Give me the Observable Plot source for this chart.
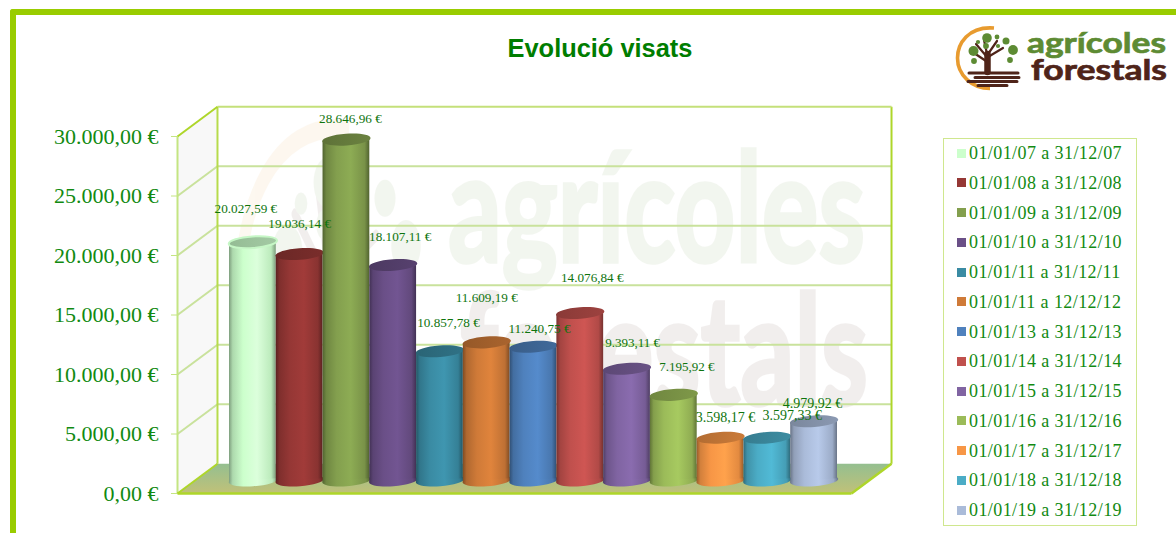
<!DOCTYPE html>
<html lang="ca">
<head>
<meta charset="utf-8">
<title>Evolució visats</title>
<script src="https://cdn.jsdelivr.net/npm/d3@7"></script>
<script src="https://cdn.jsdelivr.net/npm/@observablehq/plot@0.6"></script>
<style>
  html, body { margin: 0; padding: 0; background: #fff; }
  #root { position: relative; width: 1176px; height: 533px; overflow: hidden; }
  #frame { position: absolute; left: 10px; top: 9px; width: 1176px; height: 540px;
           border-left: 6px solid #99cc00; border-top: 6px solid #99cc00; border-top-left-radius: 3px; }
  #decor, #chart { position: absolute; left: 0; top: 0; }
  #chart svg { display: block; }
  #title { position: absolute; left: 450px; width: 300px; top: 33px; text-align: center; margin: 0;
           font: bold 25.4px/30px "Liberation Sans", sans-serif; color: #007d00; }
  #legend { position: absolute; left: 943px; top: 138px; width: 192px; height: 386px;
            border: 1px solid #cfe78e; background: #fff; }
  #legend .row { position: absolute; left: 13px; height: 20px; display: flex; align-items: center; white-space: nowrap;
                 font: 18px/20px "Liberation Serif", serif; letter-spacing: .42px; color: #128a12; }
  #legend .sw { width: 9px; height: 9px; margin-right: 3px; flex: none; }
</style>
</head>
<body>
<div id="root">
  <div id="frame"></div>
  <svg id="decor" width="1176" height="533" xmlns="http://www.w3.org/2000/svg" xmlns:xlink="http://www.w3.org/1999/xlink">
    <defs>
      <g id="logo">
        <path d="M994 28 C968 26 957.5 44 957.5 58 C957.5 75 972 88.5 990 88.5" fill="none" stroke="#e89b2f" stroke-width="3.6"/>
        <g fill="none" stroke="#4f2419" stroke-linecap="round">
          <path d="M987.5 72 L987.5 54" stroke-width="6.5"/>
          <path d="M987 57 L976 44 M987 54 L984 40 M988 54 L997 41 M988 57 L1003 48 M986 61 L974 53" stroke-width="2.2"/>
          <path d="M969 73 L1018 73 M975 77.5 L1019 77.5 M968 81.5 L1017 81.5 M978 85.5 L1007 85.5" stroke-width="3"/>
        </g>
        <g fill="#5d8b33">
          <circle cx="987" cy="38" r="4.8"/><circle cx="997" cy="37" r="2.4"/><circle cx="1006" cy="41" r="3.5"/>
          <circle cx="1013" cy="50" r="4.9"/><circle cx="978" cy="42" r="2.1"/><circle cx="973.5" cy="51" r="5"/>
          <circle cx="974" cy="61" r="2.9"/><circle cx="986" cy="46" r="2.9"/><circle cx="998" cy="46" r="2.1"/>
          <circle cx="1010" cy="60" r="2.9"/>
        </g>
        <text x="1027" y="53" font-family="Lato" font-weight="700" font-size="28.5" fill="#5d8b33" stroke="#5d8b33" stroke-width=".7" textLength="139" lengthAdjust="spacingAndGlyphs">agrícoles</text>
        <text x="1031" y="80" font-family="Lato" font-weight="700" font-size="29" fill="#4f2419" stroke="#4f2419" stroke-width=".7" textLength="136" lengthAdjust="spacingAndGlyphs">forestals</text>
      </g>
    </defs>
    <use xlink:href="#logo" href="#logo" opacity="0.07" transform="translate(-2633 -19) scale(3 5.3)"/>
  </svg>
  <div id="chart"></div>
  <svg id="logoFront" width="1176" height="533" style="position:absolute;left:0;top:0;pointer-events:none" xmlns="http://www.w3.org/2000/svg" xmlns:xlink="http://www.w3.org/1999/xlink">
    <use xlink:href="#logo" href="#logo"/>
  </svg>
  <h1 id="title">Evolució visats</h1>
  <div id="legend"></div>
</div>
<script>
// Data
const periods = [
  "01/01/07 a 31/12/07", "01/01/08 a 31/12/08", "01/01/09 a 31/12/09", "01/01/10 a 31/12/10",
  "01/01/11 a 31/12/11", "01/01/11 a 12/12/12", "01/01/13 a 31/12/13", "01/01/14 a 31/12/14",
  "01/01/15 a 31/12/15", "01/01/16 a 31/12/16", "01/01/17 a 31/12/17", "01/01/18 a 31/12/18",
  "01/01/19 a 31/12/19"
];
const amounts = [
  20027.59, 19036.14, 28646.96, 18107.11, 10857.78, 11609.19, 11240.75,
  14076.84, 9393.11, 7195.92, 3598.17, 3597.33, 4979.92
];
const colours = [
  "#ccffcc", "#953735", "#839f4e", "#6a4f87", "#3a8ba3", "#cf7a38", "#4f81bd",
  "#c0504d", "#8064a2", "#9bbb59", "#f79646", "#4bacc6", "#aabbd9"
];
const yTicks = [0, 5000, 10000, 15000, 20000, 25000, 30000];

// Label nudges (the original chart scatters its value labels)
const labelDx = [-7, 0, 4, 7, 8.5, 0, 6, 12, 5.5, 13, 5, 25, -1.5];
const labelDy = [-46.7, -43.5, -34, -41, -42, -58, -31, -48.5, -39, -41, -33, -35, -31];
const labelSize = [13.2, 13.2, 13.2, 13.2, 13.2, 13.2, 13.2, 13.2, 13, 13, 14, 14, 14];

// 3D box, expressed in chart units: slots along x, euros along y
const depthX = 0.855, depthY = 2500, floorLeft = -1.112, floorRight = 13.3;
const baseLift = -13;

const euro = d3.formatLocale({decimal: ",", thousands: ".", grouping: [3], currency: ["", ""]}).format(",.2f");
const fmt = v => euro(v) + " €";

const shade = (c, k) => {
  const r = d3.rgb(c);
  return d3.rgb(Math.min(255, r.r * k), Math.min(255, r.g * k), Math.min(255, r.b * k)).formatHex();
};

function tiltedEllipse(rx, ry, deg) {
  const t = deg * Math.PI / 180, c = Math.cos(t), s = Math.sin(t), k = 0.5523;
  const P = (x, y) => [x * c - y * s, x * s + y * c];
  return {
    draw(ctx) {
      ctx.moveTo(...P(rx, 0));
      ctx.bezierCurveTo(...P(rx, k * ry), ...P(k * rx, ry), ...P(0, ry));
      ctx.bezierCurveTo(...P(-k * rx, ry), ...P(-rx, k * ry), ...P(-rx, 0));
      ctx.bezierCurveTo(...P(-rx, -k * ry), ...P(-k * rx, -ry), ...P(0, -ry));
      ctx.bezierCurveTo(...P(k * rx, -ry), ...P(rx, -k * ry), ...P(rx, 0));
      ctx.closePath();
    }
  };
}
const cap = tiltedEllipse(24.2, 5.8, -4);

function gradients() {
  const ns = "http://www.w3.org/2000/svg";
  const defs = document.createElementNS(ns, "defs");
  const add = (id, stops, vertical) => {
    const g = document.createElementNS(ns, "linearGradient");
    g.setAttribute("id", id);
    if (vertical) { g.setAttribute("x2", "0"); g.setAttribute("y2", "1"); }
    for (const [o, c] of stops) {
      const s = document.createElementNS(ns, "stop");
      s.setAttribute("offset", o); s.setAttribute("stop-color", c);
      g.appendChild(s);
    }
    defs.appendChild(g);
  };
  colours.forEach((c, i) => {
    add(`body${i}`, [[0, shade(c, .62)], [.08, shade(c, .85)], [.3, shade(c, 1.0)], [.6, shade(c, 1.08)], [.9, shade(c, .92)], [1, shade(c, .62)]]);
    add(`top${i}`, i === 0
      ? [[0, "#94bc94"], [1, "#a4caa4"]]
      : [[0, shade(c, .72)], [1, shade(c, .82)]]);
  });
  add("floor", [[0, "#94bf90"], [1, "#c1c178"]], true);
  return defs;
}

const skew = (index, scales, values, dims, ctx, next) => {
  const g = next(index, scales, values, dims, ctx);
  g.querySelectorAll("rect").forEach(r => {
    const c = +r.getAttribute("x") + (+r.getAttribute("width")) / 2;
    r.setAttribute("transform", `translate(${c} 0) skewY(-4) translate(${-c} 0)`);
  });
  return g;
};

const gridBright = "#aed62a", gridPale = "#c9e29c";
const gridValues = yTicks.slice(1, -1);

const leftWall = [
  {x: floorLeft, y: 0}, {x: floorLeft, y: 30000},
  {x: floorLeft + depthX, y: 30000 + depthY}, {x: floorLeft + depthX, y: depthY}
];
const floor = [
  {x: floorLeft, y: 0}, {x: floorRight, y: 0},
  {x: floorRight + depthX, y: depthY}, {x: floorLeft + depthX, y: depthY}
];

const marks = [
  () => gradients(),
  Plot.line(leftWall, {x: "x", y: "y", fill: "#f8f8f8", stroke: "none"}),
  Plot.line(floor, {x: "x", y: "y", fill: "url(#floor)", stroke: "none"}),
  // wall grid
  Plot.link(gridValues, {x1: floorLeft, x2: floorLeft + depthX, y1: d => d, y2: d => d + depthY, stroke: gridPale, strokeWidth: 2}),
  Plot.link(gridValues, {x1: floorLeft + depthX, x2: floorRight + depthX, y1: d => d + depthY, y2: d => d + depthY, stroke: gridPale, strokeWidth: 2}),
  // box outline
  Plot.link([0], {x1: floorLeft + depthX, x2: floorLeft + depthX, y1: depthY, y2: 30000 + depthY, stroke: "#b7db4c", strokeWidth: 2}),
  Plot.link([0], {x1: floorRight + depthX, x2: floorRight + depthX, y1: depthY, y2: 30000 + depthY, stroke: "#aed62a", strokeWidth: 2}),
  Plot.link([0], {x1: floorLeft + depthX, x2: floorRight + depthX, y1: 30000 + depthY, y2: 30000 + depthY, stroke: "#c4e07a", strokeWidth: 2}),
  Plot.link([0], {x1: floorLeft, x2: floorLeft, y1: 0, y2: 30000, stroke: "#c4e582", strokeWidth: 2}),
  Plot.link([0], {x1: floorLeft, x2: floorLeft + depthX, y1: 30000, y2: 30000 + depthY, stroke: gridBright, strokeWidth: 2}),
  Plot.link([0], {x1: floorLeft, x2: floorLeft + depthX, y1: 0, y2: depthY, stroke: gridBright, strokeWidth: 2}),
  Plot.link([0], {x1: floorRight, x2: floorRight + depthX, y1: 0, y2: depthY, stroke: gridBright, strokeWidth: 2.5}),
  Plot.link([0], {x1: floorLeft, x2: floorRight, y1: 0, y2: 0, stroke: gridBright, strokeWidth: 2.5}),
  Plot.axisY({
    ticks: yTicks, tickSize: 6, tickPadding: 13, stroke: "#c4e582", fill: "#118a11",
    tickFormat: fmt, fontSize: 22, fontFamily: "Liberation Serif", label: null
  })
];

// cylinders, drawn left to right so each one overlaps its neighbour
amounts.forEach((v, i) => {
  const one = [{i, v}];
  marks.push(
    Plot.dot(one, {x: i + .5, y: 0, dy: baseLift, symbol: cap, fill: `url(#body${i})`, stroke: "none"}),
    Plot.rect(one, {x1: i, x2: i + 1, y1: 0, y2: "v", dy: baseLift, fill: `url(#body${i})`, render: skew}),
    Plot.dot(one, {
      x: i + .5, y: "v", dy: baseLift, symbol: cap, fill: `url(#top${i})`,
      stroke: i === 0 ? "#c6f7c6" : "none", strokeWidth: i === 0 ? 2 : 0
    })
  );
});

// value labels
amounts.forEach((v, i) => {
  marks.push(Plot.text([v], {
    x: i + .5, y: d => d, text: fmt, dx: labelDx[i], dy: labelDy[i],
    fill: "#0e740e", fontFamily: "Liberation Serif", fontSize: labelSize[i]
  }));
});

const chart = Plot.plot({
  width: 1176,
  height: 533,
  marginLeft: 177,
  marginRight: 0,
  marginTop: 0,
  marginBottom: 0,
  style: {background: "transparent", overflow: "visible"},
  x: {type: "linear", domain: [0, 13], range: [229, 837], axis: null},
  y: {type: "linear", domain: [0, 30000], range: [493, 136], axis: null},
  marks
});
document.getElementById("chart").appendChild(chart);

const legend = document.getElementById("legend");
periods.forEach((p, i) => {
  const row = document.createElement("div");
  row.className = "row";
  row.style.top = (4 + i * 29.75) + "px";
  const sw = document.createElement("span");
  sw.className = "sw";
  sw.style.background = colours[i];
  row.appendChild(sw);
  row.appendChild(document.createTextNode(p));
  legend.appendChild(row);
});
</script>
</body>
</html>
